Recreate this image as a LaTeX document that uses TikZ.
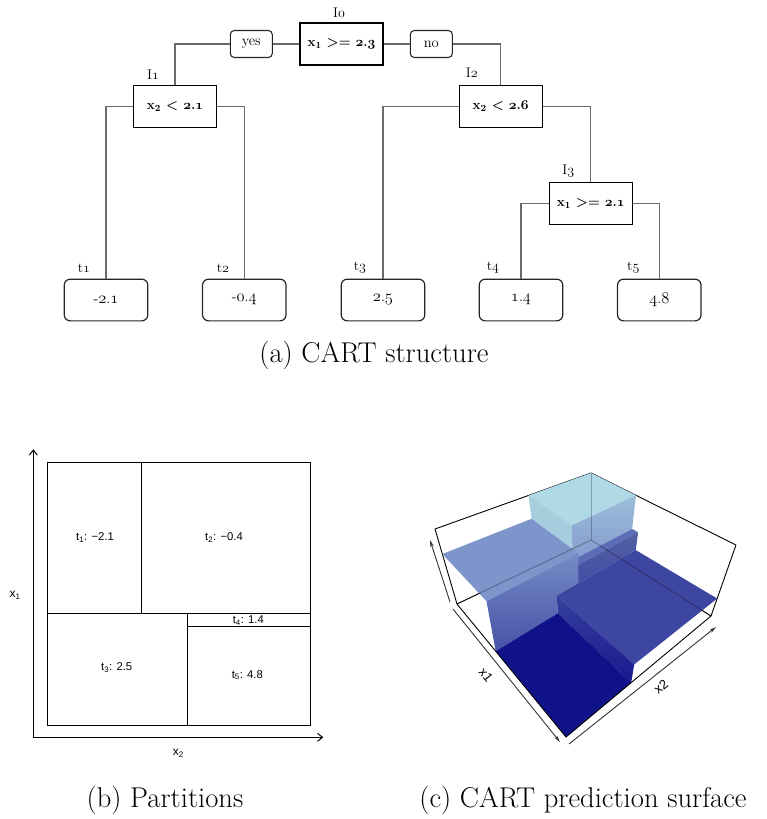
\documentclass[tikz,border=0pt]{standalone}
\usepackage{fix-cm}
\usepackage{fontspec}
\newfontfamily\lsans{Liberation Sans}
\usetikzlibrary{arrows.meta,calc}

\newcommand\osn[1]{{\usefont{OML}{cmm}{m}{it}#1}}
\newcommand\osb[1]{{\usefont{OML}{cmm}{b}{it}#1}}
\newcommand\osl[1]{{\fontsize{16.5}{17}\usefont{OML}{cmm}{m}{it}#1}}
\newcommand\onum[2]{\osl{#1}.\osl{#2}}
\newcommand\obnum[2]{\osb{#1}.\osb{#2}}

% trilinear mapping of the 3D box (u = x1 share, v = x2 share, w = height share)
\newcommand\mkpt[4]{%
 \pgfmathsetmacro\myU{#2}\pgfmathsetmacro\myV{#3}\pgfmathsetmacro\myW{#4}%
 \pgfmathsetmacro\myBx{(1-\myU)*(1-\myV)*457+(1-\myU)*\myV*591+\myU*\myV*711+\myU*(1-\myV)*566}%
 \pgfmathsetmacro\myBy{(1-\myU)*(1-\myV)*604+(1-\myU)*\myV*540+\myU*\myV*616+\myU*(1-\myV)*737}%
 \pgfmathsetmacro\myTx{(1-\myU)*(1-\myV)*435+(1-\myU)*\myV*591+\myU*\myV*736+\myU*(1-\myV)*567}%
 \pgfmathsetmacro\myTy{(1-\myU)*(1-\myV)*529+(1-\myU)*\myV*473+\myU*\myV*545+\myU*(1-\myV)*662}%
 \pgfmathsetmacro\myPx{(1-\myW)*\myBx+\myW*\myTx}%
 \pgfmathsetmacro\myPy{(1-\myW)*\myBy+\myW*\myTy}%
 \coordinate (#1) at (\myPx,\myPy);}

\def\uA{0.31}\def\uB{0.355}\def\vA{0.45}\def\vB{0.6}
\def\wS{0.2464}\def\wF{0.5072}\def\wT{0.6667}

\definecolor{cT5}{HTML}{B0D9E6}
\definecolor{cT3}{HTML}{7D95CA}
\definecolor{cT4}{HTML}{5D6CB6}
\definecolor{cT2}{HTML}{3D47A1}
\definecolor{cT1}{HTML}{10128A}
\definecolor{edgegray}{HTML}{6A6A6A}

\begin{document}
\begin{tikzpicture}[x=1pt,y=-1pt,
  cond/.style={draw=black, line width=1.2pt, minimum width=83pt, minimum height=42pt, inner sep=0pt,
    font=\fontsize{13.5}{16}\selectfont\bfseries},
  leaf/.style={draw=black!85, line width=1.2pt, rounded corners=6pt, minimum width=83.5pt,
    minimum height=41.7pt, inner sep=0pt, font=\fontsize{14.5}{17}\selectfont},
  ans/.style={draw=black!85, line width=1.1pt, rounded corners=4pt, minimum width=42pt,
    minimum height=27pt, inner sep=0pt, font=\fontsize{14.5}{17}\selectfont},
  lab/.style={inner sep=0pt, font=\fontsize{14}{17}\selectfont},
  conn/.style={draw=edgegray, line width=1.2pt},
  captext/.style={inner sep=0pt, font=\fontsize{28.6}{34}\selectfont},
  plab/.style={inner sep=0pt, font=\lsans\fontsize{11.3}{13}\selectfont},
  alab/.style={inner sep=0pt, font=\lsans\fontsize{12}{14}\selectfont},
  pline/.style={draw=black, line width=1pt},
  paxis/.style={draw=black, line width=1pt, -{Straight Barb[length=5pt,width=8pt]}},
  boxl/.style={draw=black, line width=0.9pt},
  ax3/.style={draw=black!80, line width=0.9pt, -{Stealth[length=7pt,width=3.5pt]}},
  lab3/.style={inner sep=0pt, font=\lsans\fontsize{13}{15}\selectfont}]
\useasboundingbox (0,0) rectangle (766,819);

% ---------------- (a) tree ----------------
\node[cond] (r) at (341.5,44) {x\textsubscript{1} >= \obnum{2}{3}};
\node[ans] (yes) at (251.3,44) {yes};
\node[ans] (no) at (431.3,44) {no};
\node[cond] (i1) at (175,106.7) {x\textsubscript{2} < \obnum{2}{1}};
\node[cond] (i2) at (500.7,106.5) {x\textsubscript{2} < \obnum{2}{6}};
\node[cond] (i3) at (590.7,203.3) {x\textsubscript{1} >= \obnum{2}{1}};
\node[leaf] (t1) at (106,300) {-\onum{2}{1}};
\node[leaf] (t2) at (244.3,300) {-\onum{0}{4}};
\node[leaf] (t3) at (383,300) {\onum{2}{5}};
\node[leaf] (t4) at (521,300) {\onum{1}{4}};
\node[leaf] (t5) at (659.3,300) {\onum{4}{8}};

\node[lab] (l0) at (339,13) {I\osn{0}};
\node[lab] (l1) at (153,75) {I\osn{1}};
\node[lab] (l2) at (471.7,73) {I\osn{2}};
\node[lab] (l3) at (568.3,171) {I\osn{3}};
\node[lab] (lt1) at (84,268) {t\osn{1}};
\node[lab] (lt2) at (223,268) {t\osn{2}};
\node[lab] (lt3) at (360,268) {t\osn{3}};
\node[lab] (lt4) at (493,268) {t\osn{4}};
\node[lab] (lt5) at (633.3,268) {t\osn{5}};

\draw[conn] (r.west) -- (yes.east);
\draw[conn] (yes.west) -| (i1.north);
\draw[conn] (r.east) -- (no.west);
\draw[conn] (no.east) -| (i2.north);
\draw[conn] (i1.west) -| (t1.north);
\draw[conn] (i1.east) -| (t2.north);
\draw[conn] (i2.west) -| (t3.north);
\draw[conn] (i2.east) -| (i3.north);
\draw[conn] (i3.west) -| (t4.north);
\draw[conn] (i3.east) -| (t5.north);

\node[captext] (capa) at (374,355) {(a) CART structure};

% ---------------- (b) partitions ----------------
\coordinate (po) at (33.3,737.3);
\coordinate (py) at (33.3,449.3);
\coordinate (px) at (323.3,737.3);
\draw[paxis] (po) -- (py);
\draw[paxis] (po) -- (px);
\draw[pline] (47.3,462.7) rectangle (310,725);
\draw[pline] (141.7,462.7) -- (141.7,613.3);
\draw[pline] (47.3,613.3) -- (310,613.3);
\draw[pline] (187,613.3) -- (187,725);
\draw[pline] (187,626.7) -- (310,626.7);
\node[plab] (pt1) at (95,537.7) {t\textsubscript{1}: −2.1};
\node[plab] (pt2) at (224,537.7) {t\textsubscript{2}: −0.4};
\node[plab] (pt4) at (248.3,620.3) {t\textsubscript{4}: 1.4};
\node[plab] (pt3) at (116.7,667.3) {t\textsubscript{3}: 2.5};
\node[plab] (pt5) at (247.3,675) {t\textsubscript{5}: 4.8};
\node[alab] (ax1) at (15,595.7) {x\textsubscript{1}};
\node[alab] (ax2) at (178.3,753.3) {x\textsubscript{2}};
\node[captext] (capb) at (165,800) {(b) Partitions};

% ---------------- (c) surface ----------------
\coordinate (bA) at (435,529);
\coordinate (bB) at (591,473);
\coordinate (bC) at (736,545);
\coordinate (bAp) at (457,604);
\coordinate (bBp) at (591,540);
\coordinate (bCp) at (711,616);
\coordinate (bF) at (566,737);

\draw[boxl] (bA) -- (bB) -- (bC);
\draw[boxl] (bA) -- (bAp);
\draw[boxl] (bB) -- (bBp);
\draw[boxl] (bC) -- (bCp);
\draw[boxl] (bAp) -- (bBp) -- (bCp);

\mkpt{p1}{0}{\vB}{1}
\mkpt{p2}{0}{1}{1}
\mkpt{p3}{\uA}{1}{1}
\mkpt{p4}{\uA}{\vB}{1}
\mkpt{p5}{\uA}{\vB}{\wT}
\mkpt{p6}{0}{\vB}{\wT}
\mkpt{p7}{\uA}{1}{\wF}
\mkpt{p8}{\uA}{\vB}{\wF}
\mkpt{p9}{\uB}{1}{\wF}
\mkpt{p10}{\uB}{\vB}{\wF}
\mkpt{p11}{\uB}{1}{\wS}
\mkpt{p12}{\uB}{\vB}{\wS}
\mkpt{p13}{0}{0}{\wT}
\mkpt{p14}{\uB}{\vB}{\wT}
\mkpt{p15}{\uB}{0}{\wT}
\mkpt{p16}{\uB}{\vA}{\wS}
\mkpt{p17}{\uB}{\vA}{0}
\mkpt{p18}{\uB}{0}{0}
\mkpt{p19}{1}{1}{\wS}
\mkpt{p20}{1}{\vA}{\wS}
\mkpt{p21}{1}{\vA}{0}
\mkpt{p22}{1}{0}{0}

% t5 block
\fill[cT5] (p1) -- (p2) -- (p3) -- (p4) -- cycle;
\shade[top color=cT5!95!black, bottom color=cT5!80!cT3] (p1) -- (p4) -- (p5) -- (p6) -- cycle;
\shade[top color=cT5!60!cT3, bottom color=cT3!95!white] (p4) -- (p3) -- (p7) -- (p8) -- cycle;
% t4 strip
\fill[cT4] (p8) -- (p7) -- (p9) -- (p10) -- cycle;
\shade[top color=cT4!90!black, bottom color=cT2!85!cT4] (p10) -- (p9) -- (p11) -- (p12) -- cycle;
% t3 plane
\fill[cT3] (p13) -- (p6) -- (p14) -- (p15) -- cycle;
\shade[top color=cT3!75!cT4, bottom color=cT2!70!cT4] (p15) -- (p14) -- (p12) -- (p16) -- (p17) -- (p18) -- cycle;
% t2 plane
\fill[cT2] (p16) -- (p11) -- (p19) -- (p20) -- cycle;
\shade[top color=cT2!85!cT1, bottom color=cT1!85!cT2] (p16) -- (p20) -- (p21) -- (p17) -- cycle;
% t1 floor
\fill[cT1] (p18) -- (p17) -- (p21) -- (p22) -- cycle;

% box lines seen through the surface
\draw[boxl, opacity=0.3] (bAp) -- (bBp) -- (bCp);
\draw[boxl, opacity=0.25] (bB) -- (bBp);
% front bottom edges
\draw[boxl] (bCp) -- (bF) -- (bAp);

% axes
\coordinate (z0) at (450,602);
\coordinate (z1) at (430,540);
\coordinate (xa0) at (453,609);
\coordinate (xa1) at (560,742);
\coordinate (xb0) at (569,744);
\coordinate (xb1) at (716,627);
\draw[ax3] (z0) -- (z1);
\draw[ax3] (xa0) -- (xa1);
\draw[ax3] (xb0) -- (xb1);
\node[lab3, rotate=-51] (lx1) at (486,675) {x1};
\node[lab3, rotate=38.5] (lx2) at (661,687) {x2};

\node[captext] (capc) at (583,800) {(c) CART prediction surface};
\end{tikzpicture}
\end{document}
